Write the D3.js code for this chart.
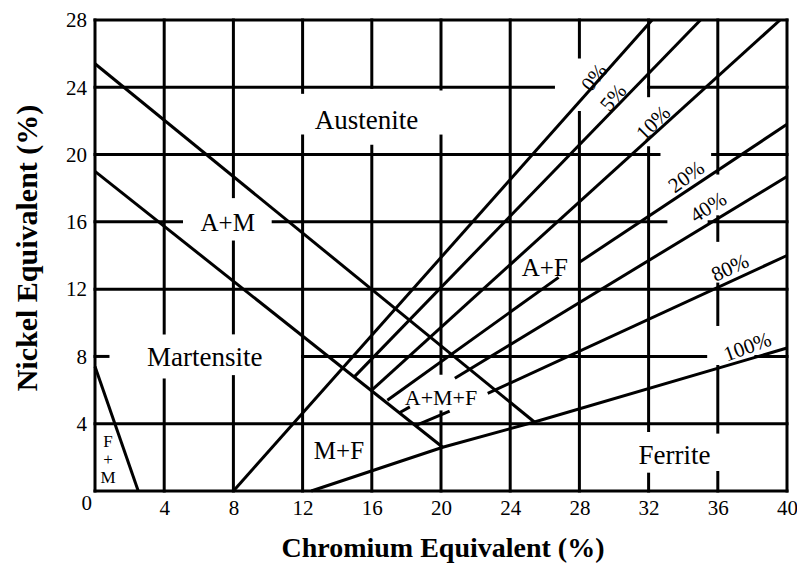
<!DOCTYPE html>
<html>
<head>
<meta charset="utf-8">
<script src="https://cdn.jsdelivr.net/npm/d3@7"></script>
<style>
  body { margin: 0; background: #fff; }
  svg text { font-family: "Liberation Serif", "Times New Roman", serif; fill: #000; }
</style>
</head>
<body>
<div id="chart"></div>
<script>
// axis ticks
const crTicks = [4, 8, 12, 16, 20, 24, 28, 32, 36, 40];
const niTicks = [4, 8, 12, 16, 20, 24, 28];

// grid lines, drawn as pieces (the original leaves gaps round the labels)
const hGrid = [
  { ni: 28, segs: [[0, 40]] },
  { ni: 24, segs: [[0, 26.5], [32, 40]] },
  { ni: 20, segs: [[0, 32.6], [35.7, 40]] },
  { ni: 16, segs: [[0, 5.0], [10.3, 33.0], [35.5, 40]] },
  { ni: 12, segs: [[0, 40]] },
  { ni: 8,  segs: [[0, 0.75], [12, 35.3], [38.2, 40]] },
  { ni: 4,  segs: [[0, 40]] },
  { ni: 0,  segs: [[0, 40]] }
];
const vGrid = [
  { cr: 0,  segs: [[0, 28]] },
  { cr: 4,  segs: [[0, 6.6], [9.4, 28]] },
  { cr: 8,  segs: [[0, 6.8], [9.4, 14.8], [17.5, 28]] },
  { cr: 12, segs: [[0, 21.1], [23.7, 28]] },
  { cr: 16, segs: [[0, 20.5], [24, 28]] },
  { cr: 20, segs: [[0, 4.7], [7.0, 21.1], [23.9, 28]] },
  { cr: 24, segs: [[0, 28]] },
  { cr: 28, segs: [[0, 22.5], [25.8, 28]] },
  { cr: 32, segs: [[0, 1.0], [3.6, 20.4], [23.5, 28]] },
  { cr: 36, segs: [[0, 1.1], [3.5, 7.4], [9.9, 12.3], [14.9, 16.3], [18.9, 28]] },
  { cr: 40, segs: [[0, 28]] }
];

// phase boundaries [Cr, Ni]
const martensiteUpper = [[0, 25.4], [25.4, 4.1]];
const martensiteLower = [[0, 19.0], [20.1, 2.6]];
const ferriteMartensite = [[0, 7.4], [2.5, 0]];

// iso-ferrite lines, each a list of pieces
const ferrite0 = [[[8, 0], [32.2, 28]]];
const ferrite5 = [[[15.0, 6.8], [35.0, 28]]];
const ferrite10 = [[[16.0, 6.0], [39.6, 28]]];
const ferrite20 = [[[16.9, 5.4], [26.8, 12.7]], [[28, 13.6], [40, 21.8]]];
const ferrite40 = [[[17.6, 4.65], [18.2, 5.0]], [[20.8, 6.7], [40, 18.7]]];
const ferrite80 = [[[18.56, 3.9], [20.5, 4.75]], [[22.7, 5.8], [40, 14.0]]];
const ferrite100 = [[[12.5, 0], [20.1, 2.6], [25.4, 4.1], [40, 8.5]]];

const isoLabels = ['0%', '5%', '10%', '20%', '40%', '80%', '100%'];
const regions = ['Austenite', 'A+M', 'Martensite', 'M+F', 'A+M+F', 'A+F', 'Ferrite'];

// label placement: [Cr, Ni, font size, angle]
const isoPos = {
  '0%': [28.84, 24.6, 21, -52], '5%': [29.94, 23.4, 21, -50], '10%': [32.25, 21.9, 21, -45],
  '20%': [34.16, 18.7, 21, -36], '40%': [35.43, 16.9, 21, -33], '80%': [36.7, 13.3, 21, -25],
  '100%': [37.7, 8.6, 21, -20]
};
const regionPos = {
  'Austenite': [15.7, 22.1, 27], 'A+M': [7.67, 16.0, 25], 'Martensite': [6.35, 8.0, 27],
  'M+F': [14.1, 2.45, 25], 'A+M+F': [20.0, 5.6, 22], 'A+F': [26.0, 13.3, 25], 'Ferrite': [33.5, 2.15, 27]
};

const W = 797, H = 563;
const x = d3.scaleLinear().domain([0, 40]).range([95, 787]);
const y = d3.scaleLinear().domain([0, 28]).range([491, 20]);

const svg = d3.select('#chart').append('svg').attr('width', W).attr('height', H);

const grid = svg.append('g').attr('stroke', '#000').attr('stroke-width', 3);
hGrid.forEach(g => g.segs.forEach(s => {
  grid.append('line').attr('x1', x(s[0]) - 1.5).attr('x2', x(s[1]) + 1.5)
    .attr('y1', y(g.ni)).attr('y2', y(g.ni));
}));
vGrid.forEach(g => g.segs.forEach(s => {
  grid.append('line').attr('x1', x(g.cr)).attr('x2', x(g.cr))
    .attr('y1', y(s[0]) + 1.5).attr('y2', y(s[1]) - 1.5);
}));

const line = d3.line().x(d => x(d[0])).y(d => y(d[1]));
const curves = svg.append('g').attr('fill', 'none').attr('stroke', '#000').attr('stroke-width', 3);
[martensiteUpper, martensiteLower, ferriteMartensite].forEach(p => curves.append('path').attr('d', line(p)));
[ferrite0, ferrite5, ferrite10, ferrite20, ferrite40, ferrite80, ferrite100]
  .forEach(l => l.forEach(p => curves.append('path').attr('d', line(p))));

// axes
const yAxis = svg.append('g').attr('transform', `translate(${x(0)},0)`)
  .call(d3.axisLeft(y).tickValues(niTicks).tickSize(0).tickPadding(8).tickFormat(d3.format('d')));
const xAxis = svg.append('g').attr('transform', `translate(0,${y(0)})`)
  .call(d3.axisBottom(x).tickValues(crTicks).tickSize(0).tickPadding(9).tickFormat(d3.format('d')));
[yAxis, xAxis].forEach(a => {
  a.select('.domain').remove();
  a.selectAll('text').attr('font-size', 21).attr('font-family', null).attr('fill', '#000');
});
svg.append('text').attr('x', 92).attr('y', 510).attr('text-anchor', 'end')
  .attr('font-size', 21).text('0');

svg.append('text').attr('x', 443).attr('y', 557).attr('text-anchor', 'middle')
  .attr('font-size', 28).attr('font-weight', 'bold').text('Chromium Equivalent (%)');
svg.append('text').attr('transform', 'translate(37,248) rotate(-90)').attr('text-anchor', 'middle')
  .attr('font-size', 30).attr('font-weight', 'bold').text('Nickel Equivalent (%)');

// region names
regions.forEach(r => {
  const [cr, ni, fs] = regionPos[r];
  svg.append('text').attr('x', x(cr)).attr('y', y(ni)).attr('dy', '0.35em')
    .attr('text-anchor', 'middle').attr('font-size', fs).text(r);
});
// small F + M field, stacked
['F', '+', 'M'].forEach((t, i) => {
  svg.append('text').attr('x', x(0.75)).attr('y', y([2.95, 1.9, 0.85][i])).attr('dy', '0.35em')
    .attr('text-anchor', 'middle').attr('font-size', 17).text(t);
});

// iso-ferrite labels
isoLabels.forEach(t => {
  const [cr, ni, fs, a] = isoPos[t];
  svg.append('text').attr('transform', `translate(${x(cr)},${y(ni)}) rotate(${a})`)
    .attr('dy', '0.35em').attr('text-anchor', 'middle').attr('font-size', fs).text(t);
});
</script>
</body>
</html>
